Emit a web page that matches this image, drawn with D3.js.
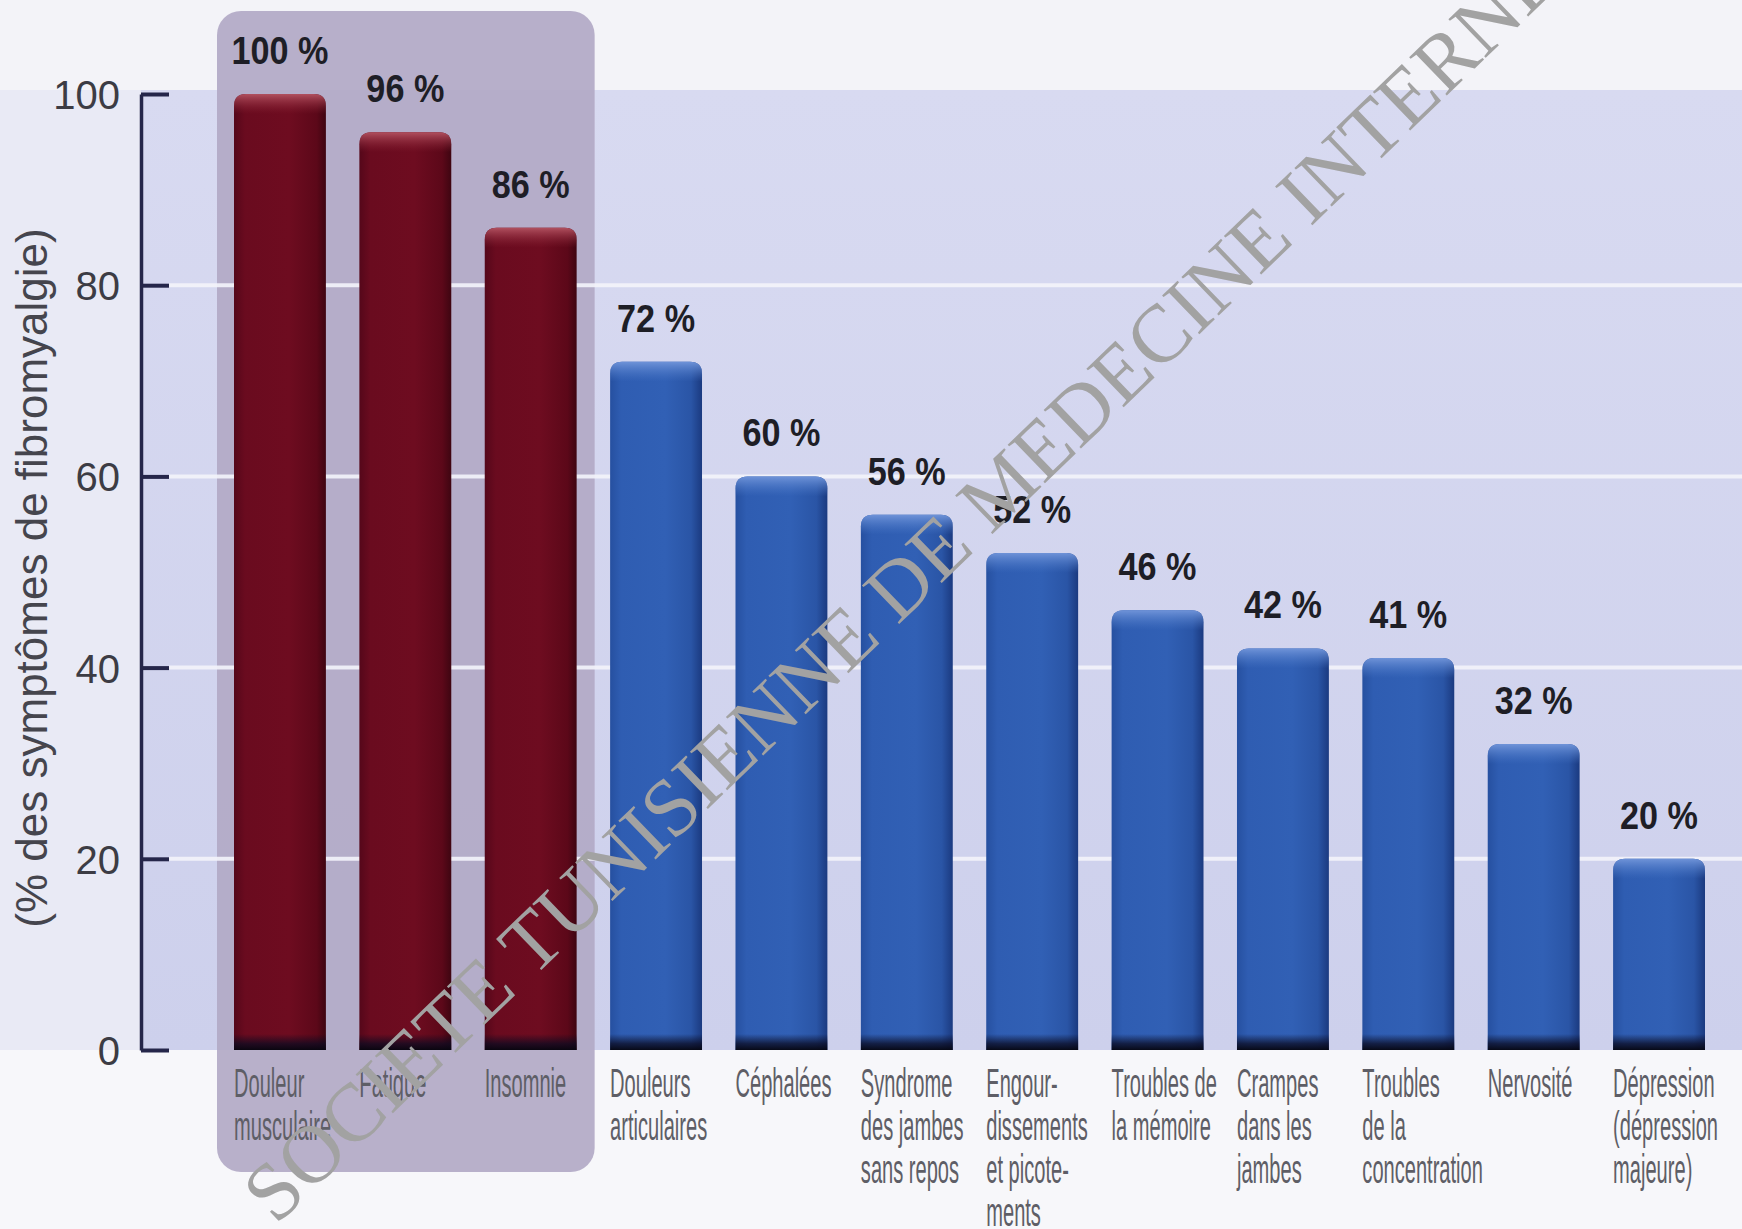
<!DOCTYPE html>
<html lang="fr">
<head>
  <meta charset="UTF-8">
  <title>Symptômes de la fibromyalgie</title>
  <script src="https://d3js.org/d3.v7.min.js"></script>
  <style>
    html,body{margin:0;padding:0;background:#f3f3f8}
    svg{display:block}
    .tick text{font-family:"Liberation Sans",Arial,sans-serif;font-size:40px;fill:#3c3c44}
    .val{font-family:"Liberation Sans",Arial,sans-serif;font-weight:bold;font-size:38px;fill:#1e1e26}
    .cat{font-family:"Liberation Sans",Arial,sans-serif;font-size:41px;fill:#5e5e66}
    .ytitle{font-family:"Liberation Sans",Arial,sans-serif;font-size:44px;fill:#45454d}
    .wm{font-family:"Liberation Serif","Times New Roman",serif;font-size:82px;fill:#a2a2a2}
  </style>
</head>
<body>
<div id="chart"></div>
<script>
/* --- données --- */
const categories=[
  ["Douleur","musculaire"],["Fatigue"],["Insomnie"],
  ["Douleurs","articulaires"],["Céphalées"],["Syndrome","des jambes","sans repos"],
  ["Engour-","dissements","et picote-","ments"],["Troubles de","la mémoire"],
  ["Crampes","dans les","jambes"],["Troubles","de la","concentration"],
  ["Nervosité"],["Dépression","(dépression","majeure)"]
];
const values=[100,96,86,72,60,56,52,46,42,41,32,20];
const mainSymptoms=[0,1,2];           // les 3 barres rouges encadrées
const yTicks=[0,20,40,60,80,100];
const yTitle="(% des symptômes de fibromyalgie)";
const watermark="SOCIETE TUNISIENNE DE MEDECINE INTERNE";

/* --- dimensions --- */
const W=1742,H=1229;
const svg=d3.select("#chart").append("svg").attr("width",W).attr("height",H);
const y=d3.scaleLinear().domain([0,100]).range([1050,94]);
const x=d3.scaleBand().domain(d3.range(values.length)).range([234,1705])
          .paddingInner(0.267).paddingOuter(0);
const axisX=141,bw=x.bandwidth();

/* --- dégradés --- */
const defs=svg.append("defs");
function hGrad(id,stops){
  const g=defs.append("linearGradient").attr("id",id)
    .attr("x1","0").attr("x2","1").attr("y1","0").attr("y2","0");
  stops.forEach(s=>g.append("stop").attr("offset",s[0]).attr("stop-color",s[1]));
}
function vGrad(id,stops){
  const g=defs.append("linearGradient").attr("id",id)
    .attr("x1","0").attr("x2","0").attr("y1","0").attr("y2","1");
  stops.forEach(s=>g.append("stop").attr("offset",s[0]).attr("stop-color",s[1])
    .attr("stop-opacity",s[2]));
}
hGrad("gRed",[[0,"#55071a"],[0.12,"#6a0b1f"],[0.6,"#6e0c20"],[0.9,"#5c0819"],[1,"#3e0511"]]);
hGrad("gBlue",[[0,"#2650a0"],[0.12,"#2f5db2"],[0.6,"#3160b5"],[0.88,"#2a55a6"],[1,"#1b3a80"]]);
vGrad("gTopRed",[[0,"#b0505f",1],[1,"#8a2234",0]]);
vGrad("gTopBlue",[[0,"#6f93d8",1],[1,"#4a78c8",0]]);
vGrad("gBottom",[[0,"#0a0a20",0],[0.6,"#0a0a20",0.75],[1,"#05050f",0.95]]);
vGrad("gPlot",[[0,"#d8daf1",1],[1,"#cdd0ec",1]]);

/* --- fond du graphique --- */
svg.append("rect").attr("x",0).attr("y",y(100)-4).attr("width",axisX)
   .attr("height",y(0)-y(100)+4).attr("fill","#e9eaf5");
svg.append("rect").attr("x",axisX).attr("y",y(100)-4).attr("width",W-axisX)
   .attr("height",y(0)-y(100)+4).attr("fill","url(#gPlot)");
svg.append("rect").attr("x",0).attr("y",y(0)).attr("width",W)
   .attr("height",H-y(0)).attr("fill","#f7f7fa");

/* --- encadré gris des symptômes principaux --- */
const bx0=x(mainSymptoms[0])-17,bx1=x(mainSymptoms[mainSymptoms.length-1])+bw+18;
svg.append("rect").attr("x",bx0).attr("y",11).attr("width",bx1-bx0)
   .attr("height",1172-11).attr("rx",24).attr("fill","#b2a9c6").attr("opacity",0.92);

/* --- grille --- */
svg.append("g").selectAll("line").data(yTicks.filter(t=>t>0&&t<100)).join("line")
   .attr("x1",axisX+28).attr("x2",W).attr("y1",d=>y(d)).attr("y2",d=>y(d))
   .attr("stroke","#f4f4fb").attr("stroke-width",4).attr("opacity",0.9);

/* --- barres --- */
function barPath(x0,y0,w,h,r){
  return `M${x0},${y0+h}V${y0+r}Q${x0},${y0} ${x0+r},${y0}H${x0+w-r}`+
         `Q${x0+w},${y0} ${x0+w},${y0+r}V${y0+h}Z`;
}
const bars=svg.append("g").selectAll("g").data(values).join("g");
bars.append("path")
    .attr("d",(d,i)=>barPath(x(i),y(d),bw,y(0)-y(d),12))
    .attr("fill",(d,i)=>mainSymptoms.includes(i)?"url(#gRed)":"url(#gBlue)");
bars.append("path")
    .attr("d",(d,i)=>barPath(x(i),y(d),bw,20,12))
    .attr("fill",(d,i)=>mainSymptoms.includes(i)?"url(#gTopRed)":"url(#gTopBlue)");
bars.append("rect")
    .attr("x",(d,i)=>x(i)).attr("y",y(0)-16).attr("width",bw).attr("height",16)
    .attr("fill","url(#gBottom)");

/* --- étiquettes de valeurs --- */
svg.append("g").selectAll("text").data(values).join("text")
   .attr("class","val").attr("text-anchor","middle")
   .attr("transform",(d,i)=>`translate(${x(i)+bw/2},${y(d)-30}) scale(0.9,1)`)
   .text(d=>d+" %");

/* --- axe Y --- */
const axis=svg.append("g").attr("transform",`translate(${axisX},0)`)
   .call(d3.axisLeft(y).tickValues(yTicks).tickSize(-28).tickSizeOuter(0).tickPadding(21));
axis.selectAll("path,line").attr("stroke","#25264a").attr("stroke-width",4);
axis.select(".domain").attr("stroke-width",3.5);
axis.selectAll(".tick text").attr("dy","0.36em");

svg.append("text").attr("class","ytitle").attr("text-anchor","middle")
   .attr("transform",`translate(47,${(y(0)+y(100))/2+6}) rotate(-90)`)
   .text(yTitle);

/* --- catégories --- */
const cats=svg.append("g").selectAll("g").data(categories).join("g")
   .attr("transform",(d,i)=>`translate(${x(i)},1097) scale(0.49,1)`);
cats.selectAll("text").data(d=>d).join("text")
   .attr("class","cat").attr("x",0).attr("y",(d,j)=>j*43).text(d=>d);

/* --- filigrane --- */
svg.append("text").attr("class","wm")
   .attr("transform","translate(276,1226) rotate(-44)")
   .text(watermark);
</script>
</body>
</html>
